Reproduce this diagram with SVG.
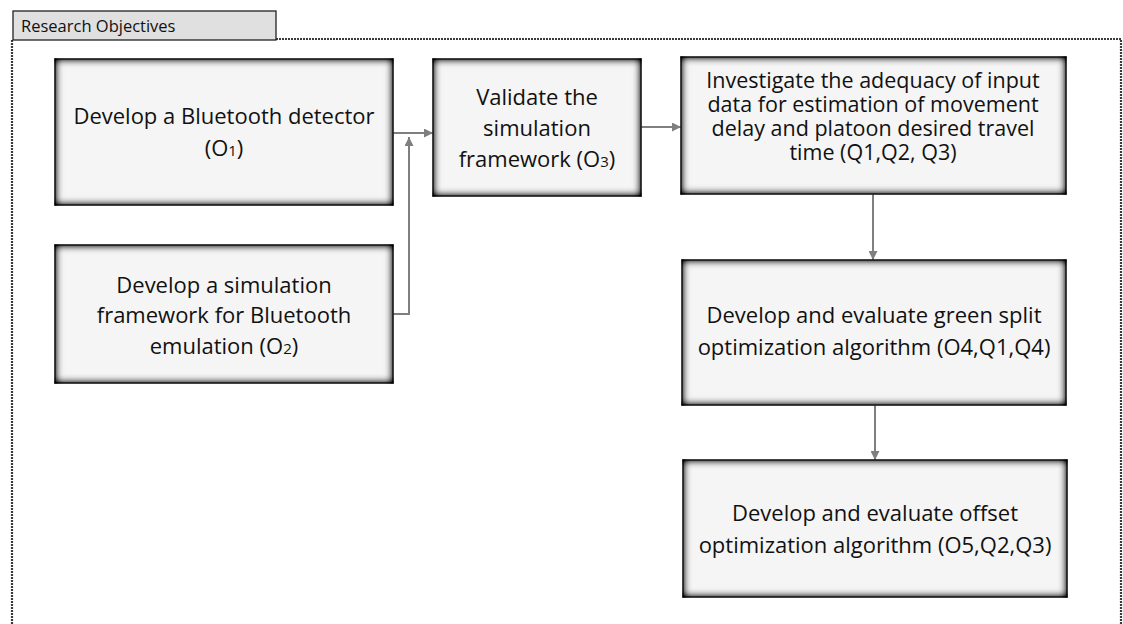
<svg xmlns="http://www.w3.org/2000/svg" width="1123" height="624" viewBox="0 0 1123 624">
  <style>
    .box { fill: #f5f5f5; stroke: #3a3a3a; stroke-width: 1.5; }
    .txt { font-family: "Open Sans", "Liberation Sans", sans-serif; font-size: 22px; fill: #111; text-anchor: middle; }
    .tight { font-size: 21.5px; }
    .sub { font-size: 15px; }
    .conn { fill: none; stroke: #7f7f7f; stroke-width: 2; marker-end: url(#arr); }
    .frame { fill: none; stroke: #3a3a3a; stroke-width: 2.2; stroke-dasharray: 2 1; }
  </style>
  <defs>
    <filter id="inset" x="-10%" y="-10%" width="120%" height="120%" color-interpolation-filters="sRGB">
      <feGaussianBlur in="SourceAlpha" stdDeviation="4" result="blur"/>
      <feComposite in="SourceAlpha" in2="blur" operator="arithmetic" k1="0" k2="1.6" k3="-1.6" k4="0" result="edge"/>
      <feFlood flood-color="#000000" flood-opacity="1" result="black"/>
      <feComposite in="black" in2="edge" operator="in" result="shadow"/>
      <feMerge><feMergeNode in="SourceGraphic"/><feMergeNode in="shadow"/></feMerge>
    </filter>
    <marker id="arr" viewBox="0 0 10 10" refX="10" refY="5" markerWidth="9" markerHeight="9" markerUnits="userSpaceOnUse" orient="auto">
      <path d="M0,0 L10,5 L0,10 z" fill="#7f7f7f"/>
    </marker>
  </defs>
  <rect width="1123" height="624" fill="#fff"/>

  <g id="frame">
    <path class="frame" d="M276,39 H1121 V626 M12,40 V626"/>
    <rect x="13" y="11" width="263" height="29" fill="#e0e0e0" stroke="#222" stroke-width="1.3"/>
    <text x="21" y="32" font-family="'Open Sans', 'Liberation Sans', sans-serif" font-size="16.5" fill="#111">Research Objectives</text>
  </g>

  <g id="connectors">
    <path class="conn" d="M393,133 H433"/>
    <path class="conn" d="M393,314 H409 V137"/>
    <path class="conn" d="M641,127 H681"/>
    <path class="conn" d="M873,194 V260"/>
    <path class="conn" d="M875,405 V460"/>
  </g>

  <g id="o1">
    <rect class="box" filter="url(#inset)" x="55" y="59" width="338" height="146"/>
    <text class="txt" x="224" y="124">Develop a Bluetooth detector</text>
    <text class="txt" x="224" y="156">(O<tspan class="sub">1</tspan>)</text>
  </g>

  <g id="o2">
    <rect class="box" filter="url(#inset)" x="55" y="245" width="338" height="138"/>
    <text class="txt" x="224" y="293">Develop a simulation</text>
    <text class="txt" x="224" y="323">framework for Bluetooth</text>
    <text class="txt" x="224" y="354">emulation (O<tspan class="sub">2</tspan>)</text>
  </g>

  <g id="o3">
    <rect class="box" filter="url(#inset)" x="433" y="59" width="208" height="137"/>
    <text class="txt" x="537" y="105">Validate the</text>
    <text class="txt" x="537" y="136">simulation</text>
    <text class="txt" x="537" y="167">framework (O<tspan class="sub">3</tspan>)</text>
  </g>

  <g id="q123">
    <rect class="box" filter="url(#inset)" x="681" y="57" width="385" height="137"/>
    <text class="txt tight" x="873" y="88">Investigate the adequacy of input</text>
    <text class="txt tight" x="873" y="112">data for estimation of movement</text>
    <text class="txt tight" x="873" y="136">delay and platoon desired travel</text>
    <text class="txt tight" x="873" y="160">time (Q1,Q2, Q3)</text>
  </g>

  <g id="o4">
    <rect class="box" filter="url(#inset)" x="682" y="260" width="384" height="145"/>
    <text class="txt" x="874" y="323">Develop and evaluate green split</text>
    <text class="txt" x="874" y="355">optimization algorithm (O4,Q1,Q4)</text>
  </g>

  <g id="o5">
    <rect class="box" filter="url(#inset)" x="683" y="460" width="384" height="137"/>
    <text class="txt" x="875" y="521">Develop and evaluate offset</text>
    <text class="txt" x="875" y="553">optimization algorithm (O5,Q2,Q3)</text>
  </g>
</svg>
